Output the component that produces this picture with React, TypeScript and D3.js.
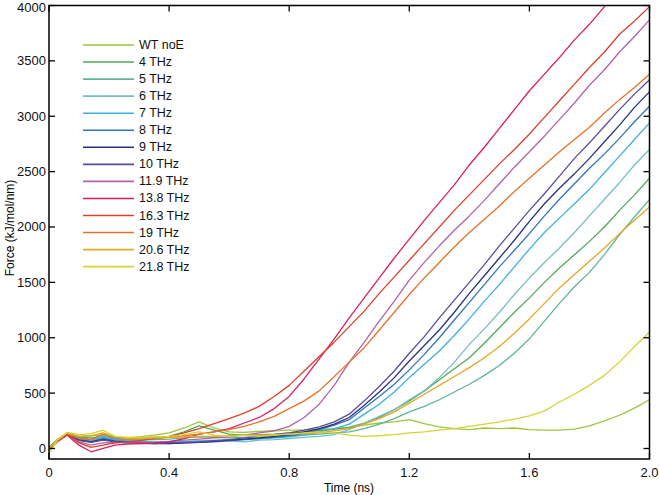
import * as d3 from 'd3';

// time points (ns)
const times = [
  0, 0.03, 0.06, 0.1, 0.14, 0.18, 0.22, 0.26, 0.3, 0.35, 0.4, 0.45, 0.5, 0.55, 0.6, 0.65, 0.7, 0.75,
  0.8, 0.85, 0.9, 0.95, 1.0, 1.05, 1.1, 1.15, 1.2, 1.25, 1.3, 1.35, 1.4, 1.45, 1.5, 1.55, 1.6, 1.65,
  1.7, 1.75, 1.8, 1.85, 1.9, 1.95, 2.0,
];

// force (kJ/mol/nm) per series
const wtNoE = [
  0, 80, 140, 110, 115, 120, 100, 95, 105, 120, 140, 185, 240, 185, 150, 145, 155, 160, 165, 165, 175,
  180, 190, 210, 230, 240, 260, 225, 195, 180, 170, 185, 180, 185, 170, 165, 165, 175, 205, 250, 300,
  365, 440,
];
const thz4 = [
  10, 85, 135, 100, 95, 105, 95, 85, 90, 100, 110, 150, 205, 165, 130, 120, 125, 130, 140, 150, 160,
  175, 190, 230, 280, 350, 430, 520, 620, 720, 820, 950, 1090, 1230, 1360, 1500, 1630, 1750, 1870,
  2000, 2150, 2290, 2440,
];
const thz5 = [
  0, 80, 130, 95, 85, 95, 90, 75, 75, 80, 85, 95, 105, 100, 95, 100, 105, 110, 115, 120, 130, 140,
  150, 180, 220, 270, 330, 380, 440, 510, 580, 660, 750, 860, 990, 1150, 1310, 1460, 1590, 1750,
  1930, 2090, 2250,
];
const thz6 = [
  0, 75, 130, 85, 75, 85, 80, 65, 60, 55, 60, 65, 70, 75, 70, 60, 75, 80, 90, 100, 110, 125, 170,
  230, 290, 350, 440, 520, 640, 780, 940, 1080, 1230, 1390, 1540, 1680, 1810, 1950, 2100, 2250,
  2400, 2560, 2700,
];
const thz7 = [
  5, 80, 130, 90, 80, 110, 85, 70, 65, 60, 55, 60, 65, 70, 75, 80, 90, 95, 105, 120, 150, 180, 220,
  310, 400, 510, 640, 760, 880, 1020, 1170, 1330, 1480, 1640, 1800, 1950, 2080, 2210, 2340, 2490,
  2640, 2790, 2940,
];
const thz8 = [
  0, 75, 125, 80, 65, 90, 70, 60, 55, 50, 45, 50, 55, 60, 70, 80, 90, 100, 115, 135, 170, 210, 260,
  365, 470, 580, 710, 850, 1000, 1160, 1320, 1480, 1640, 1790, 1940, 2100, 2250, 2390, 2530, 2660,
  2800, 2950, 3090,
];
const thz9 = [
  0, 75, 125, 75, 60, 80, 65, 55, 50, 45, 45, 50, 55, 65, 75, 85, 95, 110, 125, 150, 180, 220, 280,
  390, 510, 640, 790, 930, 1070, 1230, 1400, 1560, 1720, 1880, 2050, 2210, 2350, 2480, 2620, 2770,
  2920, 3080, 3220,
];
const thz10 = [
  0, 75, 125, 70, 55, 75, 60, 50, 45, 45, 50, 55, 60, 70, 80, 95, 110, 125, 140, 165, 195, 240, 310,
  430, 560, 700, 860, 1010, 1180, 1340, 1500, 1660, 1830, 1990, 2150, 2300, 2460, 2620, 2760, 2910,
  3060, 3200, 3330,
];
const thz119 = [
  0, 70, 125, 60, 30, 50, 55, 50, 50, 55, 65, 75, 85, 95, 105, 120, 140, 160, 200, 280, 400, 570,
  780, 960, 1150, 1330, 1520, 1680, 1830, 1970, 2100, 2240, 2390, 2540, 2680, 2820, 2970, 3120, 3280,
  3420, 3580, 3720, 3870,
];
const thz138 = [
  -10, 65, 120, 30, -30, 0, 30, 40, 45, 50, 60, 90, 130, 150, 180, 230, 280, 360, 470, 630, 810,
  990, 1180, 1360, 1540, 1720, 1890, 2060, 2220, 2380, 2560, 2720, 2890, 3060, 3230, 3380, 3530,
  3690, 3830, 3990, 4140, null, null,
];
const thz163 = [
  0, 70, 125, 50, 10, 30, 50, 60, 70, 90, 110, 140, 180, 225, 270, 320, 380, 470, 570, 700, 830,
  960, 1100, 1240, 1400, 1550, 1700, 1850, 2000, 2150, 2290, 2430, 2570, 2700, 2840, 2990, 3140,
  3290, 3440, 3580, 3740, 3860, 3990,
];
const thz19 = [
  0, 80, 135, 90, 80, 130, 95, 85, 85, 90, 100, 115, 130, 150, 170, 200, 240, 290, 360, 430, 520,
  650, 780, 910, 1070, 1230, 1390, 1540, 1680, 1820, 1950, 2070, 2190, 2320, 2440, 2560, 2680, 2790,
  2900, 3030, 3150, 3260, 3380,
];
const thz206 = [
  0, 85, 140, 110, 115, 140, 105, 90, 90, 95, 100, 105, 110, 110, 115, 120, 120, 125, 130, 135, 140,
  160, 180, 220, 270, 330, 410, 490, 570, 650, 730, 820, 920, 1040, 1170, 1310, 1450, 1570, 1690,
  1810, 1940, 2060, 2180,
];
const thz218 = [
  -40, 80, 145, 125, 135, 165, 110, 100, 100, 105, 110, 125, 150, 120, 110, 120, 110, 120, 130, 140,
  150, 140, 120, 110, 115, 125, 140, 150, 165, 180, 200, 220, 240, 265, 295, 340, 420, 490, 570, 660,
  780, 920, 1050,
];

const seriesNames = [
  'WT noE', '4 THz', '5 THz', '6 THz', '7 THz', '8 THz', '9 THz', '10 THz',
  '11.9 THz', '13.8 THz', '16.3 THz', '19 THz', '20.6 THz', '21.8 THz',
];
const seriesValues = [
  wtNoE, thz4, thz5, thz6, thz7, thz8, thz9, thz10, thz119, thz138, thz163, thz19, thz206, thz218,
];
const seriesColors = [
  '#9dc43c', '#4fa95a', '#5fb596', '#74bec2', '#3dafe0', '#2f74b8', '#25337c', '#5c4b9d',
  '#b262a9', '#d81f62', '#d9412b', '#e5722b', '#e6a623', '#d4d434',
];

const xTicks = [0, 0.4, 0.8, 1.2, 1.6, 2.0];
const yTicks = [0, 500, 1000, 1500, 2000, 2500, 3000, 3500, 4000];

const width = 660,
  height = 495;
const frame = { left: 49, right: 649.5, top: 5.5, bottom: 459 };
const font = '"Liberation Sans", Arial, Helvetica, sans-serif';
const tickLen = 6;

export default function App() {
  const xScale = d3.scaleLinear().domain([0, 2]).range([frame.left, frame.right]);
  const yScale = d3.scaleLinear().domain([-95, 4000]).range([frame.bottom, frame.top]);

  const lineGenerator = d3
    .line<[number, number | null]>()
    .defined((d) => d[1] !== null)
    .x((d) => xScale(d[0]))
    .y((d) => yScale(d[1] as number));

  return (
    <svg
      width={width}
      height={height}
      viewBox={`0 0 ${width} ${height}`}
      style={{ position: 'absolute', left: 0, top: 0, background: 'white' }}
      fontFamily={font}
    >
      <defs>
        <clipPath id="plot-clip">
          <rect
            x={frame.left}
            y={frame.top}
            width={frame.right - frame.left}
            height={frame.bottom - frame.top}
          />
        </clipPath>
      </defs>

      {/* curves */}
      <g clipPath="url(#plot-clip)">
        {seriesValues.map((vals, i) => (
          <path
            key={seriesNames[i]}
            d={lineGenerator(times.map((t, j) => [t, vals[j]] as [number, number | null]))!}
            fill="none"
            stroke={seriesColors[i]}
            strokeWidth={1.3}
            strokeLinejoin="round"
          />
        ))}
      </g>

      {/* frame */}
      <rect
        x={frame.left}
        y={frame.top}
        width={frame.right - frame.left}
        height={frame.bottom - frame.top}
        fill="none"
        stroke="black"
        strokeWidth={1.5}
      />

      {/* ticks on all four sides, pointing inward */}
      <g stroke="black" strokeWidth={1.3}>
        {xTicks.map((d) => (
          <g key={d}>
            <line x1={xScale(d)} x2={xScale(d)} y1={frame.bottom} y2={frame.bottom - tickLen} />
            <line x1={xScale(d)} x2={xScale(d)} y1={frame.top} y2={frame.top + tickLen} />
          </g>
        ))}
        {yTicks.map((d) => (
          <g key={d}>
            <line x1={frame.left} x2={frame.left + tickLen} y1={yScale(d)} y2={yScale(d)} />
            <line x1={frame.right} x2={frame.right - tickLen} y1={yScale(d)} y2={yScale(d)} />
          </g>
        ))}
      </g>

      {/* tick labels */}
      <g fontSize={13} fill="#111">
        {xTicks.map((d) => (
          <text key={d} x={xScale(d)} y={477} textAnchor="middle">
            {d === 0 ? '0' : d.toFixed(1)}
          </text>
        ))}
        {yTicks.map((d) => (
          <text
            key={d}
            x={46}
            y={Math.max(yScale(d), 7)}
            textAnchor="end"
            dominantBaseline="central"
          >
            {d}
          </text>
        ))}
      </g>

      {/* axis titles */}
      <text x={349} y={492} textAnchor="middle" fontSize={12}>
        Time (ns)
      </text>
      <text transform={`translate(14, 228) rotate(-90)`} textAnchor="middle" fontSize={12}>
        Force (kJ/mol/nm)
      </text>

      {/* legend */}
      <g fontSize={12.5}>
        {seriesNames.map((name, i) => {
          const y = 45 + i * 17.05;
          return (
            <g key={name}>
              <line x1={83} x2={134} y1={y} y2={y} stroke={seriesColors[i]} strokeWidth={1.6} />
              <text x={139} y={y} dominantBaseline="central" fill="#111">
                {name}
              </text>
            </g>
          );
        })}
      </g>
    </svg>
  );
}
